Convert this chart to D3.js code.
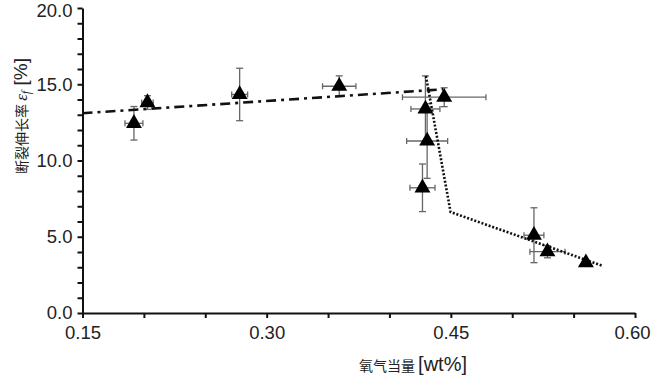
<!DOCTYPE html>
<html lang="zh">
<head>
<meta charset="UTF-8">
<title>断裂伸长率 vs 氧气当量</title>
<script src="https://d3js.org/d3.v7.min.js"></script>
<style>
    body { margin: 0; background: #fff; }
    svg { display: block; }
    .tick text { font-family: "Liberation Sans", Arial, sans-serif; font-size: 18.5px; fill: #222; }
</style>
</head>
<body>
<svg id="chart" width="652" height="377"></svg>
<script>
    // measured points (oxygen equivalent wt%, elongation %)
    const oxygenEq   = [0.1919, 0.2029, 0.278, 0.3591, 0.4446, 0.4293, 0.4307, 0.4269, 0.5177, 0.5287, 0.560];
    const elongation = [12.44, 13.8, 14.33, 14.87, 14.15, 13.38, 11.28, 8.21, 5.1, 4.02, 3.3];
    const xErr       = [0.0073, 0.0047, 0.0065, 0.0136, 0.034, 0.0118, 0.0167, 0.0102, 0.0081, 0.0143, 0];
    const yErr       = [1.1, 0.45, 1.72, 0.68, 0.62, 2.17, 2.45, 1.56, 1.8, 0.4, 0];

    // fitted trend lines
    const dashDotX = [0.15, 0.4438];
    const dashDotY = [13.1, 14.67];
    const dottedX  = [0.4297, 0.4498, 0.573];
    const dottedY  = [15.54, 6.62, 3.11];

    const xTicks = [0.15, 0.30, 0.45, 0.60];
    const yTicks = [0, 5, 10, 15, 20];

    const svg = d3.select("#chart");
    const x = d3.scaleLinear().domain([0.15, 0.60]).range([82.5, 635]);
    const y = d3.scaleLinear().domain([0, 20]).range([313, 8]);

    // axes
    const xAxis = d3.axisBottom(x)
        .tickValues(d3.range(0.15, 0.601, 0.05))
        .tickSize(5).tickSizeOuter(0).tickPadding(8)
        .tickFormat(d => xTicks.some(t => Math.abs(t - d) < 1e-6) ? d3.format(".2f")(d) : "");
    const yAxis = d3.axisLeft(y)
        .tickValues(d3.range(0, 21, 1))
        .tickSize(5).tickSizeOuter(0).tickPadding(5)
        .tickFormat(d => yTicks.includes(d) ? d3.format(".1f")(d) : "");

    const gx = svg.append("g").attr("transform", `translate(0,${y(0)})`).call(xAxis);
    const gy = svg.append("g").attr("transform", `translate(${x(0.15)},0)`).call(yAxis);
    [gx, gy].forEach(g => {
        g.select(".domain").attr("stroke", "#111").attr("stroke-width", 2);
        g.selectAll(".tick line").attr("stroke", "#111").attr("stroke-width", 2);
    });
    // keep the edge labels inside the frame
    gx.selectAll(".tick text").filter(d => Math.abs(d - 0.60) < 1e-6).attr("dx", -3);
    gy.selectAll(".tick text").filter(d => d === 20).attr("dy", "0.45em");

    // error bars
    const pts = oxygenEq.map((v, i) => ({ x: v, y: elongation[i], ex: xErr[i], ey: yErr[i] }));
    const eb = svg.append("g").attr("stroke", "#666").attr("stroke-width", 1.3).attr("fill", "none");
    pts.filter(d => d.ey > 0).forEach(d => {
        const cx = x(d.x), y0 = y(d.y - d.ey), y1 = y(d.y + d.ey);
        eb.append("line").attr("x1", cx).attr("x2", cx).attr("y1", y0).attr("y2", y1);
        eb.append("line").attr("x1", cx - 3.5).attr("x2", cx + 3.5).attr("y1", y0).attr("y2", y0);
        eb.append("line").attr("x1", cx - 3.5).attr("x2", cx + 3.5).attr("y1", y1).attr("y2", y1);
    });
    pts.filter(d => d.ex > 0).forEach(d => {
        const cy = y(d.y), x0 = x(d.x - d.ex), x1 = x(d.x + d.ex);
        eb.append("line").attr("x1", x0).attr("x2", x1).attr("y1", cy).attr("y2", cy);
        eb.append("line").attr("x1", x0).attr("x2", x0).attr("y1", cy - 3).attr("y2", cy + 3);
        eb.append("line").attr("x1", x1).attr("x2", x1).attr("y1", cy - 3).attr("y2", cy + 3);
    });

    // trend lines
    const line = d3.line().x(d => x(d[0])).y(d => y(d[1]));
    svg.append("path")
        .datum(dashDotX.map((v, i) => [v, dashDotY[i]]))
        .attr("d", line).attr("fill", "none")
        .attr("stroke", "#111").attr("stroke-width", 2.6)
        .attr("stroke-dasharray", "10,5,3,5");
    svg.append("path")
        .datum(dottedX.map((v, i) => [v, dottedY[i]]))
        .attr("d", line).attr("fill", "none")
        .attr("stroke", "#111").attr("stroke-width", 2.6)
        .attr("stroke-dasharray", "2,1.8");

    // markers
    svg.append("g").selectAll("path")
        .data(pts).join("path")
        .attr("transform", d => `translate(${x(d.x)},${y(d.y)})`)
        .attr("d", d3.symbol(d3.symbolTriangle, 110))
        .attr("fill", "#000");

    // axis titles
    const xt = svg.append("text")
        .attr("x", 413).attr("y", 371).attr("text-anchor", "middle")
        .attr("fill", "#222");
    xt.append("tspan").attr("font-family", "'Noto Sans CJK SC', sans-serif")
        .attr("font-size", 14).text("氧气当量 ");
    xt.append("tspan").attr("font-family", "'Liberation Sans', Arial, sans-serif")
        .attr("font-size", 20).text("[wt%]");

    const yt = svg.append("text")
        .attr("transform", "translate(27,116) rotate(-90)")
        .attr("text-anchor", "middle").attr("fill", "#222");
    yt.append("tspan").attr("font-family", "'Noto Sans CJK SC', sans-serif")
        .attr("font-size", 14).text("断裂伸长率 ");
    yt.append("tspan").attr("font-family", "'Liberation Serif', serif")
        .attr("font-style", "italic").attr("font-size", 17).text("ε");
    yt.append("tspan").attr("font-family", "'Liberation Serif', serif")
        .attr("font-style", "italic").attr("font-size", 12).attr("dy", 3).text("f");
    yt.append("tspan").attr("font-family", "'Liberation Sans', Arial, sans-serif")
        .attr("font-size", 19).attr("dy", -3).text(" [%]");
</script>
</body>
</html>
